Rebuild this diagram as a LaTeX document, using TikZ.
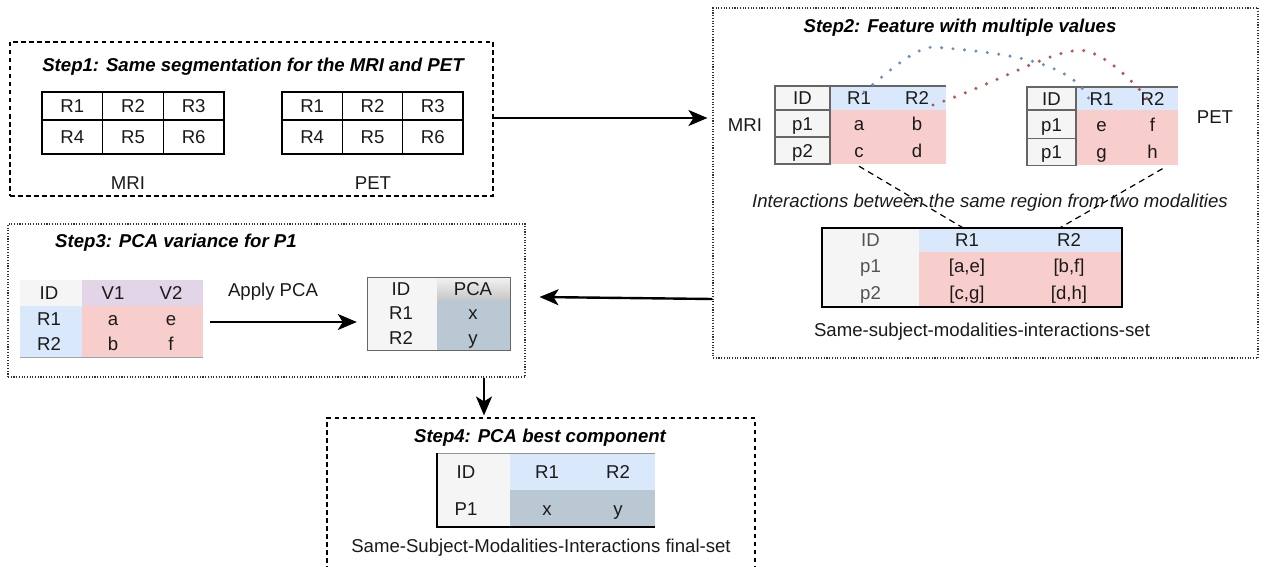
\documentclass[tikz,border=0pt]{standalone}
\usepackage{fontspec}
\setmainfont{Liberation Sans}
\usetikzlibrary{arrows.meta}

\definecolor{hdrblue}{HTML}{DAE8FC}
\definecolor{valpink}{HTML}{F8CECC}
\definecolor{idgray}{HTML}{F5F5F5}
\definecolor{hdrpurple}{HTML}{E1D5E7}
\definecolor{pcablue}{HTML}{BAC8D3}
\definecolor{dotblue}{HTML}{6C8EBF}
\definecolor{dotred}{HTML}{B85450}
\definecolor{txt}{HTML}{1A1A1A}
\definecolor{edge}{HTML}{666666}

\tikzset{
  txtfont/.style={font=\fontsize{18.6}{22}\selectfont, text=txt},
  cell/.style={txtfont, rectangle, inner sep=0pt, anchor=center, text height=13.3pt, text depth=0pt},
  gridcell/.style={cell, draw=black, line width=1.2pt},
  idcell/.style={cell, fill=idgray, draw=edge, line width=1.2pt},
  lbl/.style={txtfont, inner sep=0pt},
  title/.style={font=\fontsize{18.6}{22}\selectfont\bfseries\itshape, text=black, inner sep=0pt},
  dashbox/.style={draw=black, line width=1.1pt, dash pattern=on 4.5pt off 3.5pt, inner sep=0pt},
  dotbox/.style={draw=black!80, line width=1.1pt, dash pattern=on 1.1pt off 1.6pt, inner sep=0pt},
  flow/.style={line width=2.4pt, -{Stealth[length=19pt,width=16pt,inset=5pt]}},
  pairlink/.style={line width=1.2pt, dash pattern=on 6pt off 4.5pt},
  dotlink/.style={line width=3.4pt, line cap=round, dash pattern=on 0pt off 11.5pt},
}

\begin{document}
\begin{tikzpicture}[x=1pt, y=-1pt]
\useasboundingbox (0,0) rectangle (1264,567);

% ---------------- Step 1 ----------------
\node[dashbox, minimum width=483pt, minimum height=154pt] (s1) at (251.5,119) {};
\node[title] (t1) at (253,67) {Step1: Same segmentation for the MRI and PET};

% MRI region grid
\node[gridcell, minimum width=60.7pt, minimum height=28pt] (ma1) at (72.3,106) {R1};
\node[gridcell, minimum width=60.7pt, minimum height=28pt] (ma2) at (133,106) {R2};
\node[gridcell, minimum width=60.7pt, minimum height=28pt] (ma3) at (193.7,106) {R3};
\node[gridcell, minimum width=60.7pt, minimum height=34pt] (ma4) at (72.3,137) {R4};
\node[gridcell, minimum width=60.7pt, minimum height=34pt] (ma5) at (133,137) {R5};
\node[gridcell, minimum width=60.7pt, minimum height=34pt] (ma6) at (193.7,137) {R6};
\node[lbl] (mlab) at (128,183) {MRI};

% PET region grid
\node[gridcell, minimum width=60.3pt, minimum height=28pt] (pa1) at (312.2,106) {R1};
\node[gridcell, minimum width=60.3pt, minimum height=28pt] (pa2) at (372.5,106) {R2};
\node[gridcell, minimum width=60.3pt, minimum height=28pt] (pa3) at (432.8,106) {R3};
\node[gridcell, minimum width=60.3pt, minimum height=34pt] (pa4) at (312.2,137) {R4};
\node[gridcell, minimum width=60.3pt, minimum height=34pt] (pa5) at (372.5,137) {R5};
\node[gridcell, minimum width=60.3pt, minimum height=34pt] (pa6) at (432.8,137) {R6};
\node[lbl] (plab) at (373,183) {PET};

% ---------------- Step 2 ----------------
\node[dotbox, minimum width=545pt, minimum height=350pt] (s2) at (985.5,183) {};
\node[title] (t2) at (960,28) {Step2: Feature with multiple values};

% MRI values table
\fill[hdrblue] (830,86) rectangle (946,110);
\fill[valpink] (830,110) rectangle (946,164);
\draw[edge, line width=1.2pt] (775,86) -- (946,86);
\node[idcell, minimum width=55pt, minimum height=24pt] (mid) at (802.5,98) {ID};
\node[idcell, minimum width=55pt, minimum height=27pt] (mp1) at (802.5,123.5) {p1};
\node[idcell, minimum width=55pt, minimum height=27pt] (mp2) at (802.5,150.5) {p2};
\node[cell, minimum width=58pt, minimum height=24pt] (mr1) at (859,98) {R1};
\node[cell, minimum width=58pt, minimum height=24pt] (mr2) at (917,98) {R2};
\node[cell, minimum width=58pt, minimum height=27pt] (ma) at (859,123.5) {a};
\node[cell, minimum width=58pt, minimum height=27pt] (mb) at (917,123.5) {b};
\node[cell, minimum width=58pt, minimum height=27pt] (mc) at (859,150.5) {c};
\node[cell, minimum width=58pt, minimum height=27pt] (md) at (917,150.5) {d};
\node[lbl] (mri2) at (745,125) {MRI};

% PET values table
\fill[hdrblue] (1076,87) rectangle (1178,110);
\fill[valpink] (1076,110) rectangle (1178,165);
\draw[edge, line width=1.2pt] (1027,87) -- (1178,87);
\node[idcell, minimum width=49pt, minimum height=23pt] (pid) at (1051.5,98.5) {ID};
\node[idcell, minimum width=49pt, minimum height=28pt] (pp1) at (1051.5,124.5) {p1};
\node[idcell, minimum width=49pt, minimum height=27pt] (pp2) at (1051.5,152) {p1};
\node[cell, minimum width=51pt, minimum height=23pt] (pr1) at (1101.5,98.5) {R1};
\node[cell, minimum width=51pt, minimum height=23pt] (pr2) at (1152.5,98.5) {R2};
\node[cell, minimum width=51pt, minimum height=28pt] (pe) at (1101.5,124.5) {e};
\node[cell, minimum width=51pt, minimum height=28pt] (pf) at (1152.5,124.5) {f};
\node[cell, minimum width=51pt, minimum height=27pt] (pg) at (1101.5,152) {g};
\node[cell, minimum width=51pt, minimum height=27pt] (ph) at (1152.5,152) {h};
\node[lbl] (pet2) at (1215,117) {PET};

% region-to-region pairing curves
\draw[dotlink, dotblue] ([xshift=5pt,yshift=6pt]mr1.center)
  .. controls (890,70) and (915,48) .. (933,47)
  .. controls (990,52) and (1075,58) .. ([xshift=-11pt,yshift=-4pt]pr1.center);
\draw[dotlink, dotred] ([xshift=16pt,yshift=-7pt]mr2.center)
  .. controls (1000,82) and (1060,45) .. (1086,51)
  .. controls (1108,56) and (1136,84) .. ([xshift=-3pt,yshift=-3pt]pr2.center);

\node[txtfont, font=\fontsize{18.6}{22}\selectfont\itshape, inner sep=0pt] (inter) at (990,203)
  {Interactions between the same region from two modalities};

% merged interactions table
\fill[idgray] (822,228) rectangle (919,307);
\fill[hdrblue] (919,228) rectangle (1122,252);
\fill[valpink] (919,252) rectangle (1122,307);
\draw[black, line width=1.1pt] (822,228) rectangle (1122,307);
\node[cell, text=txt!75, minimum width=97pt, minimum height=24pt] (xid) at (870.5,240) {ID};
\node[cell, text=txt!75, minimum width=97pt, minimum height=27pt] (xp1) at (870.5,265.5) {p1};
\node[cell, text=txt!75, minimum width=97pt, minimum height=28pt] (xp2) at (870.5,293) {p2};
\node[cell, minimum width=101pt, minimum height=24pt] (xr1) at (967,240) {R1};
\node[cell, minimum width=101pt, minimum height=24pt] (xr2) at (1069,240) {R2};
\node[cell, minimum width=101pt, minimum height=27pt] (xae) at (967,265.5) {[a,e]};
\node[cell, minimum width=101pt, minimum height=27pt] (xbf) at (1069,265.5) {[b,f]};
\node[cell, minimum width=101pt, minimum height=28pt] (xcg) at (967,293) {[c,g]};
\node[cell, minimum width=101pt, minimum height=28pt] (xdh) at (1069,293) {[d,h]};
\node[lbl] (setlab) at (982,332) {Same-subject-modalities-interactions-set};

\draw[pairlink] ([yshift=-2pt]mc.south) -- ([xshift=-4pt]xr1.north);
\draw[pairlink] ([xshift=10pt,yshift=-3pt]ph.south) -- ([xshift=-9pt]xr2.north);

% ---------------- Step 3 ----------------
\node[dotbox, minimum width=517pt, minimum height=153pt] (s3) at (266.5,300.5) {};
\node[title, anchor=west] (t3) at (55,243) {Step3: PCA variance for P1};

% variance table
\fill[idgray] (20,280) rectangle (82,306);
\fill[hdrpurple] (82,280) rectangle (203,306);
\fill[hdrblue] (20,306) rectangle (82,357);
\fill[valpink] (82,306) rectangle (203,357);
\draw[edge!60, line width=1pt] (20,357) -- (203,357);
\node[cell, minimum width=62pt, minimum height=26pt] (vid) at (49,293) {ID};
\node[cell, minimum width=61pt, minimum height=26pt] (vv1) at (113,293) {V1};
\node[cell, minimum width=60pt, minimum height=26pt] (vv2) at (171,293) {V2};
\node[cell, minimum width=62pt, minimum height=25pt] (vr1) at (49,318.5) {R1};
\node[cell, minimum width=61pt, minimum height=25pt] (va) at (113,318.5) {a};
\node[cell, minimum width=60pt, minimum height=25pt] (ve) at (171,318.5) {e};
\node[cell, minimum width=62pt, minimum height=26pt] (vr2) at (49,344) {R2};
\node[cell, minimum width=61pt, minimum height=26pt] (vb) at (113,344) {b};
\node[cell, minimum width=60pt, minimum height=26pt] (vf) at (171,344) {f};

\node[lbl] (apply) at (273,292) {Apply PCA};

% PCA table
\fill[idgray] (367,277) rectangle (437,350);
\shade[top color=black!5, bottom color=black!22] (437,277) rectangle (510,300);
\fill[pcablue] (437,300) rectangle (510,350);
\draw[edge, line width=1pt] (367,277) rectangle (510,350);
\node[cell, minimum width=70pt, minimum height=23pt] (qid) at (401,288.5) {ID};
\node[cell, minimum width=73pt, minimum height=23pt] (qpca) at (473,288.5) {PCA};
\node[cell, minimum width=70pt, minimum height=26pt] (qr1) at (401,313) {R1};
\node[cell, minimum width=73pt, minimum height=26pt] (qx) at (473,313) {x};
\node[cell, minimum width=70pt, minimum height=24pt] (qr2) at (401,338) {R2};
\node[cell, minimum width=73pt, minimum height=24pt] (qy) at (473,338) {y};

\draw[flow] ([xshift=9pt,yshift=22pt]vf.east) -- ([xshift=-9pt,yshift=-9pt]qr1.west);

% ---------------- Step 4 ----------------
\node[dashbox, minimum width=428pt, minimum height=172pt] (s4) at (541,504) {};
\node[title] (t4) at (540,438) {Step4: PCA best component};

\fill[idgray] (436,453) rectangle (510,527);
\fill[hdrblue] (510,453) rectangle (655,490);
\fill[pcablue] (510,490) rectangle (655,527);
\draw[edge!70, line width=0.8pt] (436,453) -- (655,453);
\draw[black, line width=1.3pt] (436,527) -- (655,527);
\draw[black, line width=2.6pt] (437,453) -- (437,528);
\node[cell, minimum width=74pt, minimum height=37pt] (fid) at (466,471.5) {ID};
\node[cell, minimum width=72.5pt, minimum height=37pt] (fr1) at (547,471.5) {R1};
\node[cell, minimum width=72.5pt, minimum height=37pt] (fr2) at (618,471.5) {R2};
\node[cell, minimum width=74pt, minimum height=37pt] (fp1) at (466,508.5) {P1};
\node[cell, minimum width=72.5pt, minimum height=37pt] (fx) at (547,508.5) {x};
\node[cell, minimum width=72.5pt, minimum height=37pt] (fy) at (618,508.5) {y};
\node[lbl] (finlab) at (541,548) {Same-Subject-Modalities-Interactions final-set};

% ---------------- flow between steps ----------------
\draw[flow] ([yshift=1pt]s1.east) -- ([xshift=-5pt,yshift=65pt]s2.west);
\draw[flow] ([yshift=-116pt]s2.west) -- ([xshift=14pt,yshift=3.5pt]s3.east);
\draw[flow] ([xshift=217.5pt]s3.south) -- ([xshift=-57pt,yshift=2pt]s4.north);
\end{tikzpicture}
\end{document}
